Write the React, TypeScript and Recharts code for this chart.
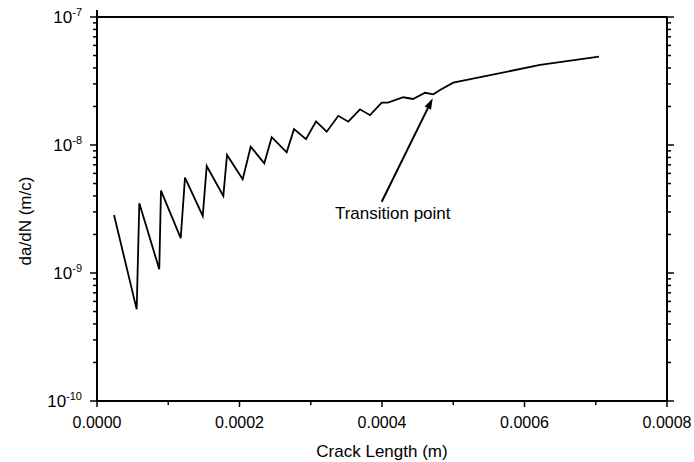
import { LineChart, Line, XAxis, YAxis, ReferenceLine, Label } from 'recharts';

// crack length (m) and da/dN (m/cycle)
const crackLength = [
  2.39e-5, 5.57e-5, 5.94e-5, 8.74e-5, 8.98e-5, 1.175e-4, 1.235e-4, 1.484e-4, 1.54e-4,
  1.773e-4, 1.825e-4, 2.045e-4, 2.157e-4, 2.348e-4, 2.452e-4, 2.662e-4, 2.765e-4,
  2.933e-4, 3.074e-4, 3.224e-4, 3.387e-4, 3.527e-4, 3.691e-4, 3.832e-4, 3.996e-4,
  4.084e-4, 4.299e-4, 4.435e-4, 4.604e-4, 4.72e-4, 4.814e-4, 5.0e-4, 6.218e-4, 7.046e-4,
];
const growthRate = [
  2.84e-9, 5.2e-10, 3.51e-9, 1.07e-9, 4.4e-9, 1.87e-9, 5.56e-9, 2.79e-9, 6.86e-9,
  4.0e-9, 8.35e-9, 5.4e-9, 9.7e-9, 7.2e-9, 1.15e-8, 8.77e-9, 1.33e-8,
  1.11e-8, 1.53e-8, 1.27e-8, 1.69e-8, 1.52e-8, 1.9e-8, 1.71e-8, 2.14e-8,
  2.14e-8, 2.36e-8, 2.29e-8, 2.56e-8, 2.49e-8, 2.69e-8, 3.07e-8, 4.22e-8, 4.9e-8,
];

const xTicks = [0, 0.0001, 0.0002, 0.0003, 0.0004, 0.0005, 0.0006, 0.0007, 0.0008];
const yDecades = [1e-10, 1e-9, 1e-8, 1e-7];
const yExponents = ['-10', '-9', '-8', '-7'];
const yTicks = [
  1e-10, 2e-10, 3e-10, 4e-10, 5e-10, 6e-10, 7e-10, 8e-10, 9e-10,
  1e-9, 2e-9, 3e-9, 4e-9, 5e-9, 6e-9, 7e-9, 8e-9, 9e-9,
  1e-8, 2e-8, 3e-8, 4e-8, 5e-8, 6e-8, 7e-8, 8e-8, 9e-8, 1e-7,
];

const arrowFrom = { x: 3.996e-4, y: 3.6e-9 };
const arrowTo = { x: 4.712e-4, y: 2.32e-8 };
const arrowText = 'Transition point';

const data = crackLength.map((x, i) => ({ x, rate: growthRate[i] }));

const FONT = '"Liberation Sans", Arial, sans-serif';
const INK = '#000';

const isMajorX = (v: number) => Math.round(v * 1e4) % 2 === 0;
const decadeIndex = (v: number) =>
  yDecades.findIndex((d) => Math.abs(Math.log10(d) - Math.log10(v)) < 1e-6);

function BottomTick({ x, y, payload }: any) {
  const major = isMajorX(payload.value);
  return (
    <g>
      <line x1={x} x2={x} y1={y} y2={y + (major ? 6 : 4)} stroke={INK} strokeWidth={1.5} />
      {major && (
        <text x={x} y={y + 27} textAnchor="middle" fontSize={16} fontFamily={FONT} fill={INK}>
          {payload.value.toFixed(4)}
        </text>
      )}
    </g>
  );
}

function TopTick({ x, y, payload }: any) {
  const major = isMajorX(payload.value);
  return <line x1={x} x2={x} y1={y} y2={y - (major ? 7 : 4)} stroke={INK} strokeWidth={1.5} />;
}

function LeftTick({ x, y, payload }: any) {
  const k = decadeIndex(payload.value);
  const major = k >= 0;
  return (
    <g>
      <line x1={x - (major ? 7 : 4)} x2={x} y1={y} y2={y} stroke={INK} strokeWidth={1.5} />
      {major && (
        <text x={x - 15} y={y + 6} textAnchor="end" fontSize={17} fontFamily={FONT} fill={INK}>
          10
          <tspan dy={-7} fontSize={11}>
            {yExponents[k]}
          </tspan>
        </text>
      )}
    </g>
  );
}

function RightTick({ x, y, payload }: any) {
  const major = decadeIndex(payload.value) >= 0;
  return <line x1={x} x2={x + (major ? 7 : 4)} y1={y} y2={y} stroke={INK} strokeWidth={1.5} />;
}

function Arrow({ x1, y1, x2, y2 }: any) {
  const dx = x2 - x1;
  const dy = y2 - y1;
  const len = Math.sqrt(dx * dx + dy * dy);
  const ux = dx / len;
  const uy = dy / len;
  const head = 11;
  const bx = x2 - ux * head;
  const by = y2 - uy * head;
  return (
    <g>
      <line x1={x1} y1={y1} x2={bx} y2={by} stroke={INK} strokeWidth={2} />
      <polygon
        points={`${x2},${y2} ${bx - uy * 3.5},${by + ux * 3.5} ${bx + uy * 3.5},${by - ux * 3.5}`}
        fill={INK}
      />
      <text x={x1 + 11} y={y1 + 17} textAnchor="middle" fontSize={17} fontFamily={FONT} fill={INK}>
        {arrowText}
      </text>
    </g>
  );
}

export default function App() {
  return (
    <div style={{ position: 'absolute', left: 0, top: 0, width: 694, height: 462 }}>
      <LineChart
        width={694}
        height={462}
        data={data}
        margin={{ top: 8, right: 17, bottom: 0, left: 0 }}
        style={{ background: '#fff' }}
      >
        <XAxis
          dataKey="x"
          type="number"
          domain={[0, 0.0008]}
          allowDataOverflow
          ticks={xTicks}
          interval={0}
          tickSize={0}
          tickMargin={0}
          tickLine={false}
          tick={<BottomTick />}
          height={61}
          axisLine={{ stroke: INK, strokeWidth: 2 }}
        >
          <Label
            content={({ viewBox }: any) => (
              <text
                x={viewBox.x + viewBox.width / 2}
                y={viewBox.y + 56}
                textAnchor="middle"
                fontSize={17}
                fontFamily={FONT}
                fill={INK}
              >
                Crack Length (m)
              </text>
            )}
          />
        </XAxis>
        <XAxis
          xAxisId="top"
          orientation="top"
          type="number"
          domain={[0, 0.0008]}
          allowDataOverflow
          ticks={xTicks}
          interval={0}
          tickSize={0}
          tickMargin={0}
          tickLine={false}
          tick={<TopTick />}
          height={9}
          axisLine={{ stroke: INK, strokeWidth: 2 }}
        />
        <YAxis
          type="number"
          scale="log"
          domain={[1e-10, 1e-7]}
          allowDataOverflow
          ticks={yTicks}
          interval={0}
          tickSize={0}
          tickMargin={0}
          tickLine={false}
          tick={<LeftTick />}
          width={97}
          axisLine={{ stroke: INK, strokeWidth: 2 }}
        >
          <Label
            content={({ viewBox }: any) => {
              const cx = viewBox.x + 25;
              const cy = viewBox.y + viewBox.height / 2 + 12;
              return (
                <text
                  x={cx}
                  y={cy}
                  transform={`rotate(-90 ${cx} ${cy})`}
                  textAnchor="middle"
                  dominantBaseline="central"
                  fontSize={17}
                  fontFamily={FONT}
                  fill={INK}
                >
                  da/dN (m/c)
                </text>
              );
            }}
          />
        </YAxis>
        <YAxis
          yAxisId="right"
          orientation="right"
          type="number"
          scale="log"
          domain={[1e-10, 1e-7]}
          allowDataOverflow
          ticks={yTicks}
          interval={0}
          tickSize={0}
          tickMargin={0}
          tickLine={false}
          tick={<RightTick />}
          width={10}
          axisLine={{ stroke: INK, strokeWidth: 2 }}
        />
        <Line
          type="linear"
          dataKey="rate"
          stroke={INK}
          strokeWidth={1.8}
          dot={false}
          isAnimationActive={false}
        />
        <ReferenceLine
          segment={[arrowFrom, arrowTo]}
          stroke={INK}
          shape={(props: any) => <Arrow {...props} />}
        />
      </LineChart>
    </div>
  );
}
